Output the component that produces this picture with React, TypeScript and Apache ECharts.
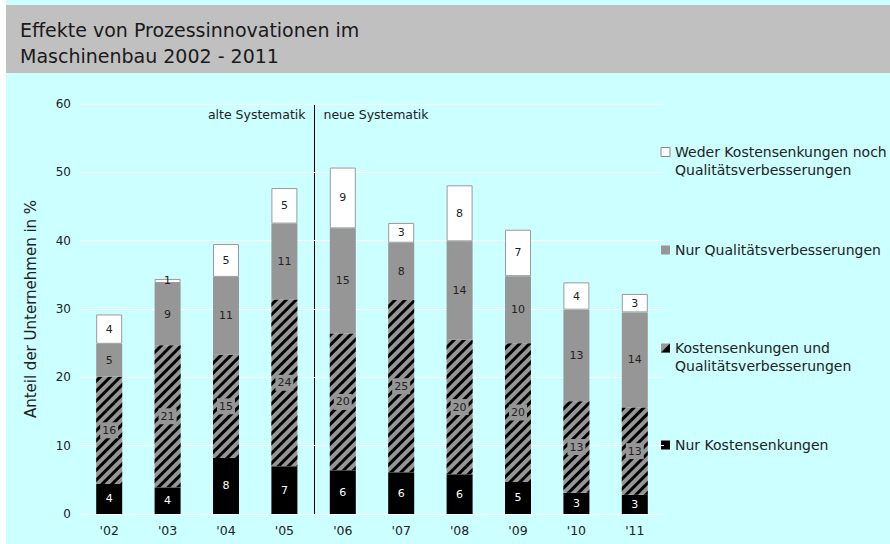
import React, { useEffect, useRef } from "react";
import * as echarts from "echarts";

const categories = ["'02", "'03", "'04", "'05", "'06", "'07", "'08", "'09", "'10", "'11"];
const nurKosten = [4.4, 3.9, 8.2, 7.0, 6.4, 6.1, 5.8, 4.7, 3.1, 2.8];
const kostenUndQual = [15.7, 20.8, 15.1, 24.4, 20.0, 25.2, 19.7, 20.3, 13.4, 12.8];
const nurQual = [4.8, 9.1, 11.4, 11.1, 15.4, 8.4, 14.4, 9.8, 13.4, 13.9];
const weder = [4.3, 0.6, 4.8, 5.2, 8.9, 2.9, 8.2, 6.8, 4.0, 2.7];

const seriesNames = [
  "Nur Kostensenkungen",
  "Kostensenkungen und Qualitätsverbesserungen",
  "Nur Qualitätsverbesserungen",
  "Weder Kostensenkungen noch Qualitätsverbesserungen",
];
const legendLines = [
  ["Weder Kostensenkungen noch", "Qualitätsverbesserungen"],
  ["Nur Qualitätsverbesserungen"],
  ["Kostensenkungen und", "Qualitätsverbesserungen"],
  ["Nur Kostensenkungen"],
];

const FONT = "DejaVu Sans";
const GREY = "#969696";
const CYAN = "#CCFFFF";

export default function App() {
  const ref = useRef<HTMLDivElement>(null);
  useEffect(() => {
    if (!ref.current) return;
    const chart = echarts.init(ref.current, null, { renderer: "svg" });
    const fmt = (p: any) => String(Math.round(p.value));
    const labelBase = { show: true, position: "inside", fontFamily: FONT, fontSize: 11, color: "#222", formatter: fmt };

    const legendX = 661;
    const legendYs = [152, 250, 348, 445];
    const legendGraphics: any[] = [];
    legendYs.forEach((y, i) => {
      const fill = ["#ffffff", GREY, GREY, "#000000"][i];
      legendGraphics.push({
        type: "rect",
        shape: { x: legendX, y: y - 4.5, width: 9, height: 9 },
        style: { fill, stroke: i === 0 ? "#888" : null, lineWidth: 1 },
      });
      if (i === 2) {
        legendGraphics.push({
          type: "polygon",
          shape: { points: [[legendX + 9, y - 4.5], [legendX + 9, y + 4.5], [legendX, y + 4.5]] },
          style: { fill: "#000" },
        });
      }
      legendLines[i].forEach((t, j) => {
        legendGraphics.push({
          type: "text",
          x: 675,
          y: y + j * 18,
          style: { text: t, fontFamily: FONT, fontSize: 14, fill: "#222", verticalAlign: "middle", align: "left" },
        });
      });
    });

    const option: any = {
      animation: false,
      backgroundColor: "#ffffff",
      title: {
        text: "Effekte von Prozessinnovationen im\nMaschinenbau 2002 - 2011",
        left: 20,
        top: 17,
        padding: 0,
        textStyle: { fontFamily: FONT, fontSize: 19, fontWeight: "normal", color: "#1a1a1a", lineHeight: 26 },
      },
      grid: { left: 80, top: 104, width: 584, bottom: 30, containLabel: false },
      xAxis: {
        type: "category",
        data: categories,
        axisLine: { show: false },
        axisTick: { show: false },
        axisLabel: { fontFamily: FONT, fontSize: 12.5, color: "#222", margin: 10 },
      },
      yAxis: {
        type: "value",
        min: 0,
        max: 60,
        interval: 10,
        name: "Anteil der Unternehmen in %",
        nameLocation: "middle",
        nameGap: 42,
        nameTextStyle: { fontFamily: FONT, fontSize: 15, color: "#222" },
        axisLine: { show: false },
        axisTick: { show: false },
        axisLabel: { fontFamily: FONT, fontSize: 12, color: "#222", margin: 9 },
        splitLine: { lineStyle: { color: "#ffffff", width: 1 } },
      },
      series: [
        {
          name: seriesNames[0],
          type: "bar",
          stack: "a",
          barWidth: 26,
          data: nurKosten,
          itemStyle: { color: "#000000" },
          label: { ...labelBase, color: "#ffffff" },
        },
        {
          name: seriesNames[1],
          type: "bar",
          stack: "a",
          data: kostenUndQual,
          itemStyle: {
            color: GREY,
            decal: {
              symbol: "rect",
              symbolSize: 1,
              color: "#000000",
              backgroundColor: null,
              dashArrayX: [1, 0],
              dashArrayY: [3, 4],
              rotation: -Math.PI / 4,
            },
          },
          label: { ...labelBase, backgroundColor: GREY, padding: [3, 2, 2, 2] },
        },
        {
          name: seriesNames[2],
          type: "bar",
          stack: "a",
          data: nurQual,
          itemStyle: { color: GREY },
          label: { ...labelBase },
        },
        {
          name: seriesNames[3],
          type: "bar",
          stack: "a",
          data: weder,
          itemStyle: { color: "#ffffff", borderColor: "#999999", borderWidth: 1 },
          label: { ...labelBase },
        },
      ],
      graphic: [
        { type: "rect", z: -10, shape: { x: 6, y: 0, width: 884, height: 544 }, style: { fill: CYAN } },
        { type: "rect", z: -9, shape: { x: 6, y: 5, width: 884, height: 68 }, style: { fill: "#C0C0C0" } },
        ...legendGraphics,
      ],
    };
    chart.setOption(option);

    const x05 = chart.convertToPixel({ xAxisIndex: 0 }, "'05") as number;
    const x06 = chart.convertToPixel({ xAxisIndex: 0 }, "'06") as number;
    const yTop = chart.convertToPixel({ yAxisIndex: 0 }, 60) as number;
    const yBot = chart.convertToPixel({ yAxisIndex: 0 }, 0) as number;
    const sepX = Math.round((x05 + x06) / 2) + 0.5;
    chart.setOption({
      graphic: [
        ...option.graphic,
        { type: "line", shape: { x1: sepX, y1: yTop, x2: sepX, y2: yBot }, style: { stroke: "#000", lineWidth: 1 } },
        {
          type: "text",
          x: sepX - 9,
          y: yTop + 10,
          style: { text: "alte Systematik", fontFamily: FONT, fontSize: 12.5, fill: "#222", align: "right", verticalAlign: "middle" },
        },
        {
          type: "text",
          x: sepX + 9,
          y: yTop + 10,
          style: { text: "neue Systematik", fontFamily: FONT, fontSize: 12.5, fill: "#222", align: "left", verticalAlign: "middle" },
        },
      ],
    });

    return () => chart.dispose();
  }, []);
  return (
    <div
      ref={ref}
      style={{ position: "fixed", left: 0, top: 0, width: 890, height: 544 }}
    />
  );
}
